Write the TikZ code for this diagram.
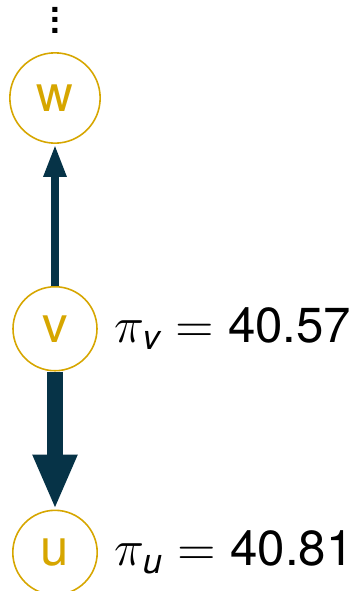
\documentclass[tikz,border=0pt]{standalone}
\usepackage{amsmath}
\usepackage[no-math]{fontspec}
\setmainfont{TeX Gyre Heros}
\usepackage{tikz}
\usetikzlibrary{arrows.meta, positioning}
\definecolor{gold}{RGB}{214,166,0}
\definecolor{deepteal}{RGB}{6,51,71}

\begin{document}
\begin{tikzpicture}[
    vtx/.style={draw=gold, circle, line width=0.45pt, text=gold, minimum size=0.84cm, inner sep=0.16cm, font=\fontsize{14.5}{16}\selectfont},
    pilabel/.style={inner sep=0pt, font=\fontsize{14}{16}\selectfont},
    flow/.style={deepteal}]
    \useasboundingbox (0,0) rectangle (3.64,5.91);

    % Chain of nodes, top to bottom
    \node[vtx] (w) at (0.55,4.93) {w};
    \node[vtx, below=1.42cm of w] (v) {v};
    \node[vtx, below=1.38cm of v] (u) {u};

    % Continuation above w
    \node[inner sep=0pt, font=\fontsize{14}{14}\selectfont, above=0.18cm of w] (dots)
        {\vbox{\baselineskip=3pt \lineskiplimit=0pt \hbox{.}\hbox{.}\hbox{.}}};

    % Values next to the nodes
    \node[pilabel, right=0.16cm of v] (piv) {$\pi_{\text{\itshape v}} = \text{40.57}$};
    \node[pilabel, right=0.16cm of u] (piu) {$\pi_{\text{\itshape u}} = \text{40.81}$};

    % Flows out of v
    \draw[flow, line width=0.09cm, -{Triangle[length=0.33cm, width=0.21cm]}] (v) -- (w);
    \draw[flow, line width=0.155cm, -{Triangle[length=0.55cm, width=0.41cm]}] (v) -- (u);
\end{tikzpicture}
\end{document}
